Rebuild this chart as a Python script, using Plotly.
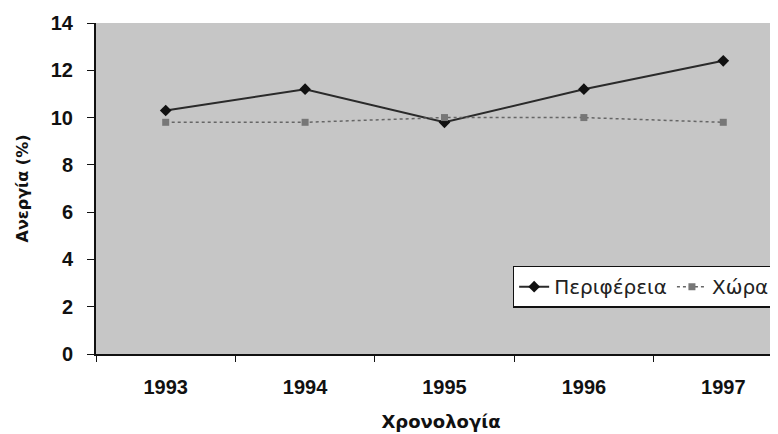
import plotly.graph_objects as go

years = ["1993", "1994", "1995", "1996", "1997"]
perifereia = [10.3, 11.2, 9.8, 11.2, 12.4]
chora = [9.8, 9.8, 10.0, 10.0, 9.8]
y_ticks = [0, 2, 4, 6, 8, 10, 12, 14]

fig = go.Figure()
fig.add_trace(go.Scatter(
    x=years, y=perifereia, name="Περιφέρεια", mode="lines+markers",
    line=dict(color="#2a2a2a", width=2),
    marker=dict(symbol="diamond", size=9, color="#111111"),
))
fig.add_trace(go.Scatter(
    x=years, y=chora, name="Χώρα", mode="lines+markers",
    line=dict(color="#666666", width=1.5, dash="dot"),
    marker=dict(symbol="square", size=7, color="#777777"),
))

fig.update_layout(
    width=778, height=434,
    margin=dict(l=88, r=0, t=15, b=88),
    paper_bgcolor="white",
    plot_bgcolor="#c6c6c6",
    font=dict(family="Liberation Sans, Arial, sans-serif", color="#111111"),
    showlegend=True,
    legend=dict(
        orientation="h", x=0.985, y=0.14, xanchor="right", yanchor="bottom",
        bgcolor="white", bordercolor="#111111", borderwidth=1.5,
        font=dict(size=20, color="#222222", family="DejaVu Sans, sans-serif"),
        itemsizing="trace",
    ),
    xaxis=dict(
        type="category", range=[-0.5, 4.45],
        showgrid=False, zeroline=False,
        showline=True, linecolor="#111111", linewidth=2,
        ticks="outside", tickson="boundaries", ticklen=6, tickcolor="#111111",
        tickfont=dict(size=20, family="Liberation Sans, Arial", weight="bold"),
        ticklabelstandoff=14,
        title=dict(text="<b>Χρονολογία</b>",
                   font=dict(size=18, family="DejaVu Sans, sans-serif"), standoff=18),
    ),
    yaxis=dict(
        range=[0, 14], tickvals=y_ticks,
        showgrid=False, zeroline=False,
        showline=True, linecolor="#111111", linewidth=2,
        ticks="outside", ticklen=7, tickcolor="#111111",
        tickfont=dict(size=20, family="Liberation Sans, Arial", weight="bold"),
        ticklabelstandoff=10,
        title=dict(text="<b>Ανεργία (%)</b>",
                   font=dict(size=16, family="DejaVu Sans, sans-serif"), standoff=18),
    ),
)

fig.write_html("out.html")
